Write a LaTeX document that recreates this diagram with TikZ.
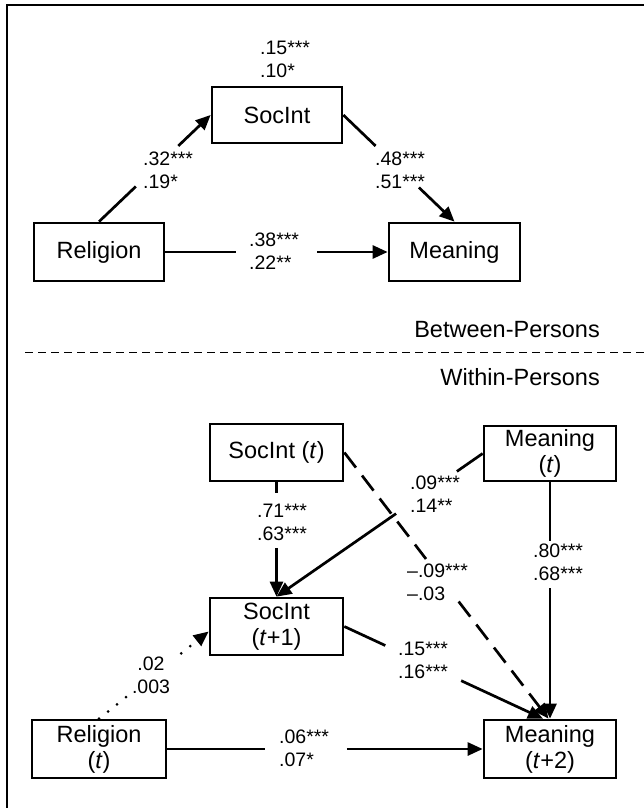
\documentclass[tikz,border=0pt]{standalone}
\usepackage{fontspec}
\setmainfont{Liberation Sans}
\usetikzlibrary{arrows.meta,calc}
\begin{document}
\begin{tikzpicture}[x=1pt,y=-1pt,
  box/.style={draw,line width=2.7pt,inner sep=0pt,align=center,font=\fontsize{23.5pt}{26pt}\selectfont},
  lab/.style={inner sep=0pt,align=left,anchor=west,font=\fontsize{19.5pt}{23pt}\selectfont},
  labc/.style={inner sep=0pt,align=center,anchor=center,font=\fontsize{19.5pt}{23pt}\selectfont},
  sect/.style={inner sep=0pt,anchor=east,font=\fontsize{23.5pt}{26pt}\selectfont},
  conn/.style={line width=2.7pt},
  arr/.style={-{Triangle[length=15pt,width=13pt]}},
  dashconn/.style={line width=2.7pt,dash pattern=on 19pt off 10pt},
  dotconn/.style={line width=3pt,line cap=round,dash pattern=on 0pt off 11.5pt},
  ]
\useasboundingbox (0,0) rectangle (644,808);
\draw[line width=1.1pt] (7,808) -- (7,5) -- (644,5);

% Between-persons model
\node[box,minimum width=130pt,minimum height=56pt] (soc) at (277,115) {SocInt};
\node[box,minimum width=130pt,minimum height=58pt] (rel) at (99,252) {Religion};
\node[box,minimum width=131pt,minimum height=58pt] (mea) at (454.5,252) {Meaning};

\node[lab] (l1) at (260,59) {.15***\\.10*};
\node[lab] (l2) at (143,170) {.32***\\.19*};
\node[lab] (l3) at (375,170) {.48***\\.51***};
\node[lab] (l4) at (249,251.5) {.38***\\.22**};

\draw[conn] (rel.north) -- ($(rel.north)!0.33!(soc.west)$);
\draw[conn,arr] ($(rel.north)!0.71!(soc.west)$) -- (soc.west);
\draw[conn] (soc.east) -- ($(soc.east)!0.29!(mea.north)$);
\draw[conn,arr] ($(soc.east)!0.68!(mea.north)$) -- (mea.north);
\draw[conn] (rel.east) -- ($(rel.east)!0.32!(mea.west)$);
\draw[conn,arr] ($(rel.east)!0.684!(mea.west)$) -- (mea.west);

\node[sect] (between) at (600,330) {Between-Persons};
\coordinate (dL) at (25,352);
\coordinate (dR) at (644,352);
\draw[line width=1pt,dash pattern=on 8pt off 5pt] (dL) -- (dR);
\node[sect] (within) at (600,377) {Within-Persons};

% Within-persons model
\node[box,minimum width=133pt,minimum height=57pt] (socT) at (276.5,452.5) {SocInt (\textit{t})};
\node[box,minimum width=132pt,minimum height=55pt] (meaT) at (550,453.5) {Meaning\\(\textit{t})};
\node[box,minimum width=133pt,minimum height=57pt] (soc1) at (276.5,626.5) {SocInt\\(\textit{t}+1)};
\node[box,minimum width=134pt,minimum height=58pt] (relT) at (99,749) {Religion\\(\textit{t})};
\node[box,minimum width=132pt,minimum height=58pt] (mea2) at (550,749) {Meaning\\(\textit{t}+2)};

\coordinate (m2a) at ($(mea2.north)+(-1.5,0)$);
\coordinate (m2b) at ($(mea2.north)+(-7,0)$);
\coordinate (s1d) at ($(soc1.west)+(0,5)$);

\node[lab] (l5) at (257,522.5) {.71***\\.63***};
\node[lab] (l6) at (410,494) {.09***\\.14**};
\node[lab] (l7) at (407,582) {\textendash.09***\\\textendash.03};
\node[lab] (l8) at (533,562) {.80***\\.68***};
\node[lab] (l9) at (398,660) {.15***\\.16***};
\node[labc] (l10) at (151,675) {.02\\.003};
\node[lab] (l11) at (279,748.5) {.06***\\.07*};

\draw[conn] (socT.south) -- ($(socT.south)!0.094!(soc1.north)$);
\draw[conn,arr] ($(socT.south)!0.573!(soc1.north)$) -- (soc1.north);
\draw[conn] (meaT.west) -- ($(meaT.west)!0.125!(soc1.north)$);
\draw[conn,arr] ($(meaT.west)!0.42!(soc1.north)$) -- (soc1.north);
\draw[dashconn] (socT.east) -- ($(socT.east)!0.40!(m2a)$);
\draw[dashconn,arr] ($(socT.east)!0.56!(m2a)$) -- (m2a);
\draw[conn] (meaT.south) -- ($(meaT.south)!0.247!(mea2.north)$);
\draw[conn,arr] ($(meaT.south)!0.448!(mea2.north)$) -- (mea2.north);
\draw[conn] (soc1.east) -- ($(soc1.east)!0.206!(m2b)$);
\draw[conn,arr] ($(soc1.east)!0.588!(m2b)$) -- (m2b);
\draw[dotconn] (relT.north) -- ($(relT.north)!0.27!(s1d)$);
\draw[dotconn,arr] ($(relT.north)!0.75!(s1d)$) -- (s1d);
\draw[conn] (relT.east) -- ($(relT.east)!0.311!(mea2.west)$);
\draw[conn,arr] ($(relT.east)!0.569!(mea2.west)$) -- (mea2.west);
\end{tikzpicture}
\end{document}
